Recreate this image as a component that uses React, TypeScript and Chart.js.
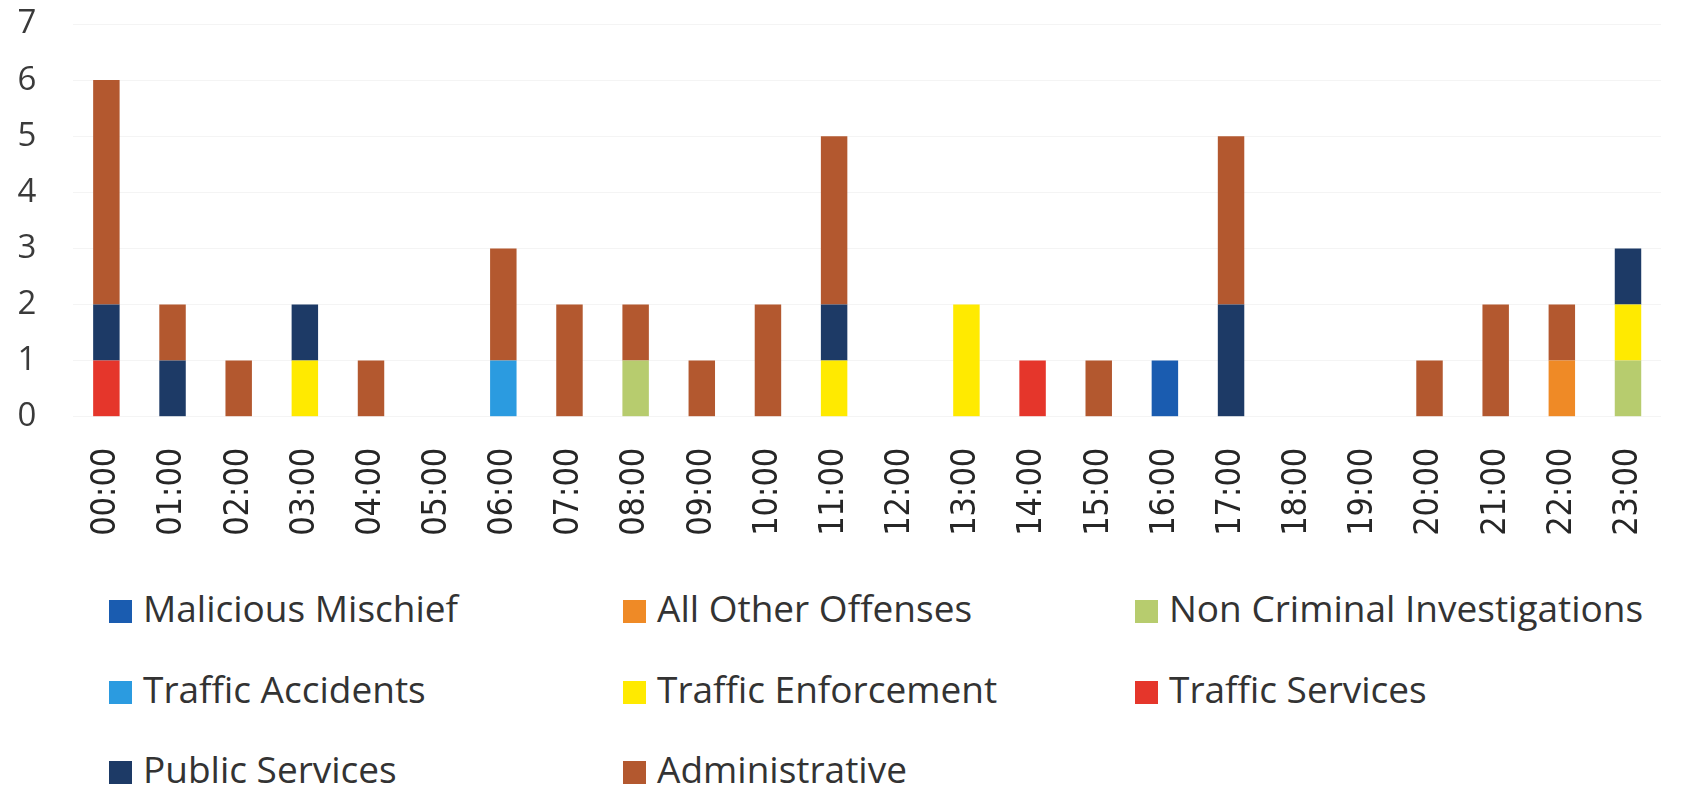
import React, { useEffect, useRef } from "react";
import { Chart, registerables } from "chart.js";

Chart.register(...registerables);

const hours = [
  "00:00", "01:00", "02:00", "03:00", "04:00", "05:00", "06:00", "07:00",
  "08:00", "09:00", "10:00", "11:00", "12:00", "13:00", "14:00", "15:00",
  "16:00", "17:00", "18:00", "19:00", "20:00", "21:00", "22:00", "23:00",
];

//                                    00 01 02 03 04 05 06 07 08 09 10 11 12 13 14 15 16 17 18 19 20 21 22 23
const maliciousMischief =            [0, 0, 0, 0, 0, 0, 0, 0, 0, 0, 0, 0, 0, 0, 0, 0, 1, 0, 0, 0, 0, 0, 0, 0];
const allOtherOffenses =             [0, 0, 0, 0, 0, 0, 0, 0, 0, 0, 0, 0, 0, 0, 0, 0, 0, 0, 0, 0, 0, 0, 1, 0];
const nonCriminalInvestigations =    [0, 0, 0, 0, 0, 0, 0, 0, 1, 0, 0, 0, 0, 0, 0, 0, 0, 0, 0, 0, 0, 0, 0, 1];
const trafficAccidents =             [0, 0, 0, 0, 0, 0, 1, 0, 0, 0, 0, 0, 0, 0, 0, 0, 0, 0, 0, 0, 0, 0, 0, 0];
const trafficEnforcement =           [0, 0, 0, 1, 0, 0, 0, 0, 0, 0, 0, 1, 0, 2, 0, 0, 0, 0, 0, 0, 0, 0, 0, 1];
const trafficServices =              [1, 0, 0, 0, 0, 0, 0, 0, 0, 0, 0, 0, 0, 0, 1, 0, 0, 0, 0, 0, 0, 0, 0, 0];
const publicServices =               [1, 1, 0, 1, 0, 0, 0, 0, 0, 0, 0, 1, 0, 0, 0, 0, 0, 2, 0, 0, 0, 0, 0, 1];
const administrative =               [4, 1, 1, 0, 1, 0, 2, 2, 1, 1, 2, 3, 0, 0, 0, 1, 0, 3, 0, 0, 1, 2, 1, 0];

const yTicks = [0, 1, 2, 3, 4, 5, 6, 7];

const seriesNames = [
  "Malicious Mischief",
  "All Other Offenses",
  "Non Criminal Investigations",
  "Traffic Accidents",
  "Traffic Enforcement",
  "Traffic Services",
  "Public Services",
  "Administrative",
];
const seriesValues = [
  maliciousMischief,
  allOtherOffenses,
  nonCriminalInvestigations,
  trafficAccidents,
  trafficEnforcement,
  trafficServices,
  publicServices,
  administrative,
];
const seriesColors = [
  "#1a5cb0",
  "#ef8a26",
  "#b7cc6e",
  "#2b9be0",
  "#ffea00",
  "#e5362b",
  "#1d3a66",
  "#b3582f",
];

const CANVAS_W = 1700;
const CANVAS_H = 560;

export default function App() {
  const canvasRef = useRef<HTMLCanvasElement | null>(null);

  useEffect(() => {
    const canvas = canvasRef.current;
    if (!canvas) return;
    const chart = new Chart(canvas, {
      type: "bar",
      data: {
        labels: hours,
        datasets: seriesNames.map((name, i) => ({
          label: name,
          data: seriesValues[i],
          backgroundColor: seriesColors[i],
          borderWidth: 0,
          categoryPercentage: 0.4,
          barPercentage: 1.0,
        })),
      },
      options: {
        animation: false,
        responsive: false,
        maintainAspectRatio: false,
        devicePixelRatio: 1,
        layout: { padding: { top: 24, right: 10, left: 0, bottom: 0 } },
        plugins: {
          legend: { display: false },
          tooltip: { enabled: false },
        },
        scales: {
          x: {
            stacked: true,
            offset: true,
            grid: { display: false, drawTicks: false },
            border: { display: false },
            ticks: {
              autoSkip: false,
              minRotation: 90,
              maxRotation: 90,
              padding: 31,
              color: "#262626",
              font: { family: "'DejaVu Sans Condensed', 'DejaVu Sans'", size: 34 },
            },
            afterFit: (s: any) => {
              s.height = 143.3;
            },
          },
          y: {
            stacked: true,
            min: 0,
            max: 7,
            afterBuildTicks: (s: any) => {
              s.ticks = yTicks.map((v) => ({ value: v }));
            },
            grid: { color: "#f4f4f4", drawTicks: false, lineWidth: 1 },
            border: { display: false },
            ticks: {
              padding: 37,
              color: "#3a3a3a",
              font: { family: "'Open Sans'", size: 33 },
            },
            afterFit: (s: any) => {
              s.width = 73.3;
              s.paddingTop = 20;
              s.paddingBottom = 20;
            },
          },
        },
      },
    });
    return () => chart.destroy();
  }, []);

  const colX = [109, 623, 1135];
  const rowTop = [600, 680.5, 761];

  return (
    <div
      style={{
        position: "fixed",
        left: 0,
        top: 0,
        width: 1684,
        height: 786,
        overflow: "hidden",
        background: "#ffffff",
      }}
    >
      <canvas
        ref={canvasRef}
        width={CANVAS_W}
        height={CANVAS_H}
        style={{ position: "absolute", left: 0, top: 0, width: CANVAS_W, height: CANVAS_H }}
      />
      {seriesNames.map((name, i) => {
        const col = i % 3;
        const row = Math.floor(i / 3);
        const x = colX[col];
        const y = rowTop[row];
        return (
          <div key={name}>
            <div
              style={{
                position: "absolute",
                left: x,
                top: y,
                width: 23,
                height: 23,
                background: seriesColors[i],
              }}
            />
            <div
              style={{
                position: "absolute",
                left: x + 34,
                top: y - 10.6,
                fontFamily: "'Open Sans'",
                fontSize: 37,
                lineHeight: "37px",
                color: "#333333",
                whiteSpace: "nowrap",
              }}
            >
              {name}
            </div>
          </div>
        );
      })}
    </div>
  );
}
